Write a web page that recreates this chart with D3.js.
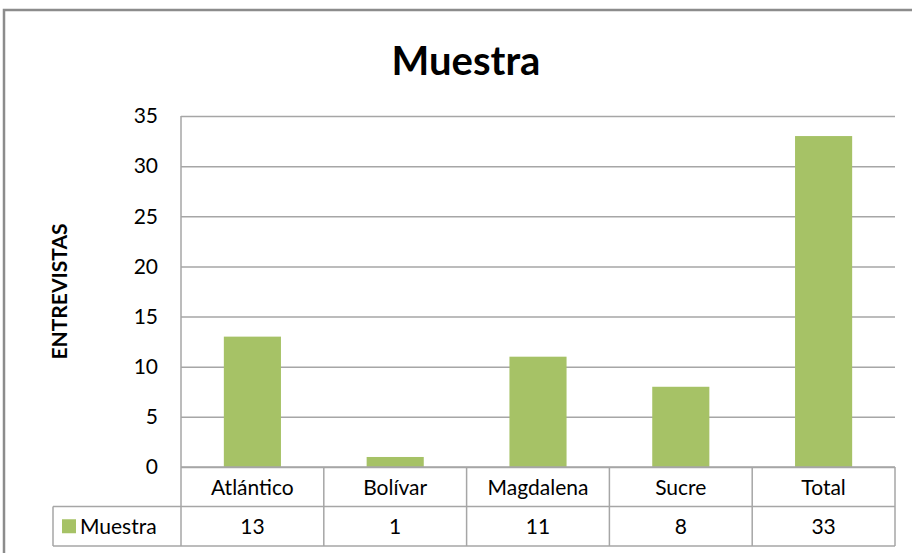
<!DOCTYPE html>
<html>
<head>
<meta charset="utf-8">
<script src="https://cdn.jsdelivr.net/npm/d3@7"></script>
<style>
  body { margin: 0; background: #fff; }
  text { font-family: Lato, "Open Sans", sans-serif; fill: #000; }
</style>
</head>
<body>
<div class="chart"></div>
<script>
var categories = ["Atlántico", "Bolívar", "Magdalena", "Sucre", "Total"];
var muestra = [13, 1, 11, 8, 33];
var yTicks = [0, 5, 10, 15, 20, 25, 30, 35];
var seriesName = "Muestra";

var svgWidth = 912;
var svgHeight = 553;

var plot = { left: 181, right: 895, top: 116, bottom: 467 };
var rowH = 39.5;

var svg = d3.select(".chart")
  .append("svg")
  .attr("width", svgWidth)
  .attr("height", svgHeight);

// chart frame (runs off the right and bottom of the picture)
svg.append("rect")
  .attr("x", 4)
  .attr("y", 10)
  .attr("width", 940)
  .attr("height", 600)
  .attr("fill", "none")
  .attr("stroke", "#8c8c8c")
  .attr("stroke-width", 2.5);

var xScale = d3.scaleBand()
  .domain(categories)
  .range([plot.left, plot.right])
  .paddingInner(0.6)
  .paddingOuter(0.3);

var cellScale = d3.scaleBand()
  .domain(categories)
  .range([plot.left, plot.right]);

var yScale = d3.scaleLinear()
  .domain([0, 35])
  .range([plot.bottom, plot.top]);

// gridlines + tick labels
var yAxis = d3.axisLeft(yScale)
  .tickValues(yTicks)
  .tickSize(-(plot.right - plot.left))
  .tickPadding(23);

var yG = svg.append("g")
  .attr("transform", `translate(${plot.left},0)`)
  .call(yAxis);
yG.select(".domain").remove();
yG.selectAll("line").attr("stroke", "#a6a6a6").attr("stroke-width", 1.5);
yG.selectAll("text")
  .style("font-size", "21px")
  .style("font-family", "Lato, sans-serif")
  .attr("fill", "#111");

// left axis line
svg.append("line")
  .attr("x1", plot.left).attr("x2", plot.left)
  .attr("y1", plot.top).attr("y2", plot.bottom)
  .attr("stroke", "#a6a6a6").attr("stroke-width", 1.5);

// bars
svg.selectAll("rect.bar")
  .data(muestra)
  .enter()
  .append("rect")
  .attr("class", "bar")
  .attr("x", (d, i) => xScale(categories[i]))
  .attr("width", xScale.bandwidth())
  .attr("y", d => yScale(d))
  .attr("height", d => yScale(0) - yScale(d))
  .attr("fill", "#a6c266");

// data table
var tbl = svg.append("g").attr("stroke", "#a6a6a6").attr("stroke-width", 1.5);
var row1 = plot.bottom, row2 = plot.bottom + rowH, row3 = plot.bottom + 2 * rowH;
tbl.append("line").attr("x1", plot.left).attr("x2", plot.right).attr("y1", row1).attr("y2", row1);
tbl.append("line").attr("x1", 53).attr("x2", plot.right).attr("y1", row2).attr("y2", row2);
tbl.append("line").attr("x1", 53).attr("x2", plot.right).attr("y1", row3).attr("y2", row3);
tbl.append("line").attr("x1", 53).attr("x2", 53).attr("y1", row2).attr("y2", row3);
categories.forEach(function(c) {
  var x = cellScale(c);
  tbl.append("line").attr("x1", x).attr("x2", x).attr("y1", row1).attr("y2", row3);
});
tbl.append("line").attr("x1", plot.right).attr("x2", plot.right).attr("y1", row1).attr("y2", row3);

svg.selectAll("text.cat")
  .data(categories)
  .enter()
  .append("text")
  .attr("class", "cat")
  .attr("x", d => cellScale(d) + cellScale.bandwidth() / 2)
  .attr("y", row1 + rowH / 2 + 8)
  .attr("text-anchor", "middle")
  .style("font-size", "21px")
  .text(d => d);

svg.selectAll("text.val")
  .data(muestra)
  .enter()
  .append("text")
  .attr("class", "val")
  .attr("x", (d, i) => cellScale(categories[i]) + cellScale.bandwidth() / 2)
  .attr("y", row2 + rowH / 2 + 8)
  .attr("text-anchor", "middle")
  .style("font-size", "21px")
  .text(d => d);

// legend key in the table
svg.append("rect")
  .attr("x", 62).attr("y", row2 + rowH / 2 - 7)
  .attr("width", 14).attr("height", 14)
  .attr("fill", "#a6c266");
svg.append("text")
  .attr("x", 80).attr("y", row2 + rowH / 2 + 8)
  .style("font-size", "21px")
  .text(seriesName);

// title
svg.append("text")
  .attr("x", 466).attr("y", 75)
  .attr("text-anchor", "middle")
  .style("font-size", "40px")
  .style("font-weight", "bold")
  .text("Muestra");

// y axis title
svg.append("text")
  .attr("transform", `translate(67, ${(plot.top + plot.bottom) / 2}) rotate(-90)`)
  .attr("text-anchor", "middle")
  .style("font-size", "21px")
  .style("font-weight", "bold")
  .text("ENTREVISTAS");
</script>
</body>
</html>
